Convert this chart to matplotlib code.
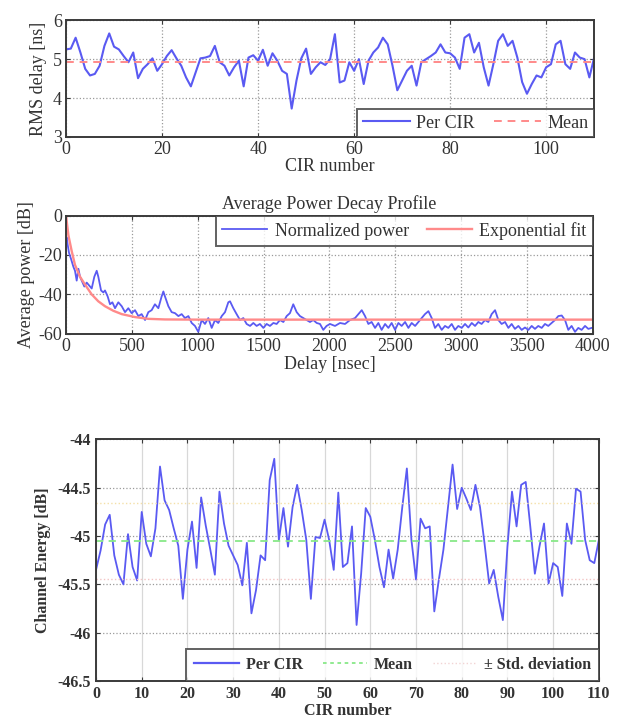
import matplotlib
matplotlib.use("Agg")
import matplotlib.pyplot as plt
from matplotlib.lines import Line2D

plt.rcParams['font.family'] = ['Liberation Serif', 'DejaVu Serif']
plt.rcParams['axes.unicode_minus'] = False

# ---------------- data ----------------
cir_top = list(range(0, 111))
rms_delay = [5.25, 5.27, 5.55, 5.17, 4.75, 4.58, 4.62, 4.83, 5.34, 5.66,
             5.32, 5.25, 5.08, 4.92, 5.17, 4.51, 4.75, 4.87, 5.02, 4.70,
             4.87, 5.08, 5.23, 5.02, 4.83, 4.53, 4.30, 4.66, 5.02, 5.04,
             5.08, 5.34, 4.92, 4.83, 4.58, 4.79, 4.96, 4.30, 5.04, 5.10,
             4.96, 5.24, 4.83, 5.15, 4.96, 4.70, 4.62, 3.73, 4.45, 5.02,
             5.27, 4.62, 4.79, 4.92, 4.85, 5.00, 5.64, 4.40, 4.45, 4.92,
             4.70, 5.00, 4.36, 4.96, 5.17, 5.30, 5.55, 5.38, 4.83, 4.20,
             4.45, 4.70, 4.83, 4.32, 4.92, 5.00, 5.08, 5.17, 5.38, 5.17,
             5.15, 5.04, 4.75, 5.55, 5.64, 5.17, 5.42, 4.79, 4.32, 4.87,
             5.47, 5.64, 5.34, 5.47, 5.04, 4.41, 4.11, 4.36, 4.58, 4.53,
             4.79, 4.87, 5.38, 5.47, 4.87, 4.75, 5.17, 5.04, 5.00, 4.53,
             5.04]
rms_mean = 4.93

delay_ns = [0, 5, 13, 23, 38, 56, 68, 81, 94, 106, 119, 139, 157, 170, 195,
            215, 233, 245, 266, 283, 296, 316, 334, 352, 372, 397, 423, 448,
            473, 498, 524, 549, 574, 600, 625, 650, 675, 701, 726, 739, 751,
            777, 802, 827, 853, 878, 903, 929, 954, 979, 1004, 1030, 1055,
            1080, 1106, 1131, 1156, 1182, 1207, 1232, 1245, 1270, 1295, 1321,
            1346, 1371, 1397, 1422, 1447, 1472, 1498, 1523, 1548, 1574, 1599,
            1624, 1650, 1675, 1700, 1725, 1751, 1776, 1801, 1827, 1852, 1877,
            1903, 1928, 1953, 1978, 2004, 2042, 2080, 2118, 2156, 2194, 2219,
            2245, 2270, 2295, 2320, 2346, 2371, 2396, 2422, 2447, 2472, 2498,
            2523, 2548, 2574, 2599, 2624, 2650, 2675, 2700, 2725, 2751, 2776,
            2801, 2826, 2852, 2877, 2902, 2928, 2953, 2978, 3004, 3029, 3054,
            3080, 3105, 3130, 3155, 3181, 3206, 3231, 3257, 3282, 3307, 3333,
            3358, 3383, 3408, 3434, 3459, 3484, 3510, 3535, 3560, 3585, 3611,
            3636, 3661, 3687, 3712, 3737, 3763, 3788, 3813, 3838, 3864, 3889,
            3914, 3940, 3965, 3990, 4000]
norm_power = [-12, -11, -15, -19, -22, -26, -28, -33, -27, -31, -33, -36, -34,
              -35, -37, -31, -28, -31, -38, -39, -38, -41, -45, -44, -47, -44,
              -46, -49, -47, -49.5, -48, -51, -50, -53, -49, -48, -45, -47,
              -41, -38.5, -41, -46, -49, -49.5, -51, -50, -52, -51, -54.5,
              -56, -59, -53, -55, -52, -57, -53, -54.5, -51, -49, -44, -43.5,
              -47, -50, -53, -52, -55, -56, -54.5, -56, -55, -57, -55, -56,
              -54.5, -55, -53, -54, -51, -49.5, -45, -49, -51, -52, -53, -54,
              -53, -54.5, -55, -58, -56, -55, -56, -54.5, -55, -53, -52, -50,
              -48, -51, -55, -54, -57, -54.5, -58, -55, -57, -54.5, -58,
              -54.5, -56, -54, -57, -54.5, -56, -54, -52, -50, -48.5, -52,
              -57, -55, -58, -56, -57, -55, -58, -56, -57, -55, -56.8, -54.5,
              -56, -54, -55, -53, -54, -50, -48, -53, -55, -54, -57, -55,
              -57.5, -56, -58, -56.8, -58, -56, -57.5, -56, -57, -55, -56,
              -54.5, -53, -51, -50.7, -53, -58, -56, -59, -57, -58, -56,
              -57.5, -57, -57]

fit_delay_ns = [0, 18, 43, 68, 106, 144, 195, 245, 296, 359, 423, 524, 625,
                751, 1000, 2000, 3000, 4000]
fit_power = [0, -10, -18, -25, -31, -35, -40, -43.5, -46, -48.3, -50, -51.5,
             -52.4, -52.7, -52.8, -52.8, -52.8, -52.8]

cir_bot = list(range(0, 111))
channel_energy = [-45.35, -45.15, -44.88, -44.78, -45.20, -45.40, -45.50,
                  -44.98, -45.32, -45.46, -44.75, -45.08, -45.21, -44.92,
                  -44.28, -44.63, -44.73, -44.92, -45.10, -45.65, -45.14,
                  -44.85, -45.33, -44.60, -44.89, -45.14, -45.40, -44.54,
                  -44.87, -45.10, -45.20, -45.30, -45.51, -45.07, -45.80,
                  -45.56, -45.20, -45.25, -44.42, -44.20, -45.04, -44.71,
                  -45.11, -44.70, -44.47, -44.73, -45.04, -45.65, -45.01,
                  -45.02, -44.83, -45.04, -45.35, -44.55, -45.32, -45.28,
                  -44.90, -45.92, -45.39, -44.71, -44.80, -45.04, -45.32,
                  -45.53, -45.14, -45.44, -45.14, -44.70, -44.30, -45.04,
                  -45.45, -44.82, -44.92, -44.90, -45.78, -45.45, -45.14,
                  -44.70, -44.26, -44.72, -44.50, -44.61, -44.73, -44.47,
                  -44.70, -45.08, -45.49, -45.35, -45.63, -45.87, -45.11,
                  -44.54, -44.90, -44.47, -44.44, -44.90, -45.39, -45.11,
                  -44.87, -45.49, -45.28, -45.32, -45.62, -44.87, -45.08,
                  -44.51, -44.54, -45.04, -45.25, -45.28, -45.04]
energy_mean = -45.05
energy_std = 0.39

# ---------------- styling ----------------
BLUE = '#5a5af2'
RED = '#ff8a8a'
GREEN = '#88e888'
SPINE = '#3a3a3a'
TXT = '#333333'
FS = 13
FSB = 11.5

fig = plt.figure(figsize=(6.17, 7.21), dpi=100)


def style_axes(ax, fs):
    for s in ax.spines.values():
        s.set_color(SPINE)
        s.set_linewidth(1.4)
    ax.grid(True, linestyle=':', color='#9a9a9a', linewidth=0.9)
    ax.tick_params(direction='in', length=3, color=SPINE, labelsize=fs,
                   labelcolor=TXT, top=True, right=True, pad=3)
    ax.set_axisbelow(True)


def style_legend(leg):
    leg.get_frame().set_edgecolor(SPINE)
    leg.get_frame().set_linewidth(1.4)
    for t in leg.get_texts():
        t.set_color(TXT)


# Top: RMS delay
ax1 = fig.add_axes([0.107, 0.810, 0.856, 0.162])
ax1.plot(cir_top, rms_delay, color=BLUE, lw=1.5, label='Per CIR')
ax1.axhline(rms_mean, color=RED, lw=1.4, ls=(0, (4, 3)), label='Mean')
ax1.set_xlim(0, 110)
ax1.set_ylim(3, 6)
ax1.set_xticks([0, 20, 40, 60, 80, 100])
ax1.set_yticks([3, 4, 5, 6])
ax1.set_xlabel('CIR number', fontsize=FS, color=TXT, labelpad=0)
ax1.set_ylabel('RMS delay [ns]', fontsize=FS, color=TXT, labelpad=4)
style_axes(ax1, FS)
leg1 = ax1.legend(loc='lower right', ncol=2, fontsize=FS, frameon=True,
                  fancybox=False, borderaxespad=0, handlelength=2.6,
                  columnspacing=1.1, handletextpad=0.35, borderpad=0.3)
style_legend(leg1)

# Middle: power decay profile
ax2 = fig.add_axes([0.107, 0.537, 0.854, 0.164])
ax2.plot(delay_ns, norm_power, color=BLUE, lw=1.3, label='Normalized power')
ax2.plot(fit_delay_ns, fit_power, color=RED, lw=1.7, label='Exponential fit')
ax2.set_xlim(0, 4000)
ax2.set_ylim(-60, 0)
ax2.set_xticks(range(0, 4001, 500))
ax2.set_yticks([-60, -40, -20, 0])
ax2.set_title('Average Power Decay Profile', fontsize=FS, color=TXT, pad=5)
ax2.set_xlabel('Delay [nsec]', fontsize=FS, color=TXT, labelpad=1)
ax2.set_ylabel('Average power [dB]', fontsize=FS, color=TXT, labelpad=2)
style_axes(ax2, FS)
leg2 = ax2.legend(loc='upper right', ncol=2, fontsize=FS, frameon=True,
                  fancybox=False, borderaxespad=0, handlelength=2.5,
                  columnspacing=1.0, handletextpad=0.4, borderpad=0.35)
style_legend(leg2)

# Bottom: channel energy
ax3 = fig.add_axes([0.1556, 0.0555, 0.815, 0.335])
ax3.plot(cir_bot, channel_energy, color=BLUE, lw=1.3, label='Per CIR')
ax3.axhline(energy_mean, color=GREEN, lw=1.3, ls=(0, (4, 3)))
ax3.axhline(energy_mean + energy_std, color='#f4e0a8', lw=1.0, ls=':')
ax3.axhline(energy_mean - energy_std, color='#f2c4c4', lw=1.0, ls=':')
ax3.set_xlim(0, 110)
ax3.set_ylim(-46.5, -44)
ax3.set_xticks(range(0, 111, 10))
ax3.set_yticks([-46.5, -46, -45.5, -45, -44.5, -44])
ax3.set_yticklabels(['-46.5', '-46', '-45.5', '-45', '-44.5', '-44'])
for s in ax3.spines.values():
    s.set_color(SPINE)
    s.set_linewidth(1.4)
ax3.grid(True, axis='x', linestyle='-', color='#d8d8d8', linewidth=0.9)
ax3.grid(True, axis='y', linestyle=':', color='#9a9a9a', linewidth=0.9)
ax3.set_axisbelow(True)
ax3.tick_params(direction='in', length=3, color=SPINE, labelsize=FSB,
                labelcolor=TXT, top=True, right=True)
for lab in ax3.get_xticklabels() + ax3.get_yticklabels():
    lab.set_fontweight('bold')
ax3.set_xlabel('CIR number', fontsize=FSB, fontweight='bold',
               color=TXT, labelpad=1)
ax3.set_ylabel('Channel Energy [dB]', fontsize=FSB, fontweight='bold',
               color=TXT, labelpad=5)
handles = [Line2D([], [], color=BLUE, lw=1.6),
           Line2D([], [], color=GREEN, lw=1.3, ls=(0, (2, 2))),
           Line2D([], [], color='#f2d4d4', lw=1.0, ls=':')]
leg3 = ax3.legend(handles, ['Per CIR', 'Mean', '\u00b1 Std. deviation'],
                  loc='lower right', ncol=3, frameon=True,
                  fancybox=False, borderaxespad=0, handlelength=2.8,
                  columnspacing=1.25, handletextpad=0.4, borderpad=0.5,
                  prop={'weight': 'bold', 'size': FSB})
style_legend(leg3)

fig.savefig('out.png', dpi=100, facecolor='white')
